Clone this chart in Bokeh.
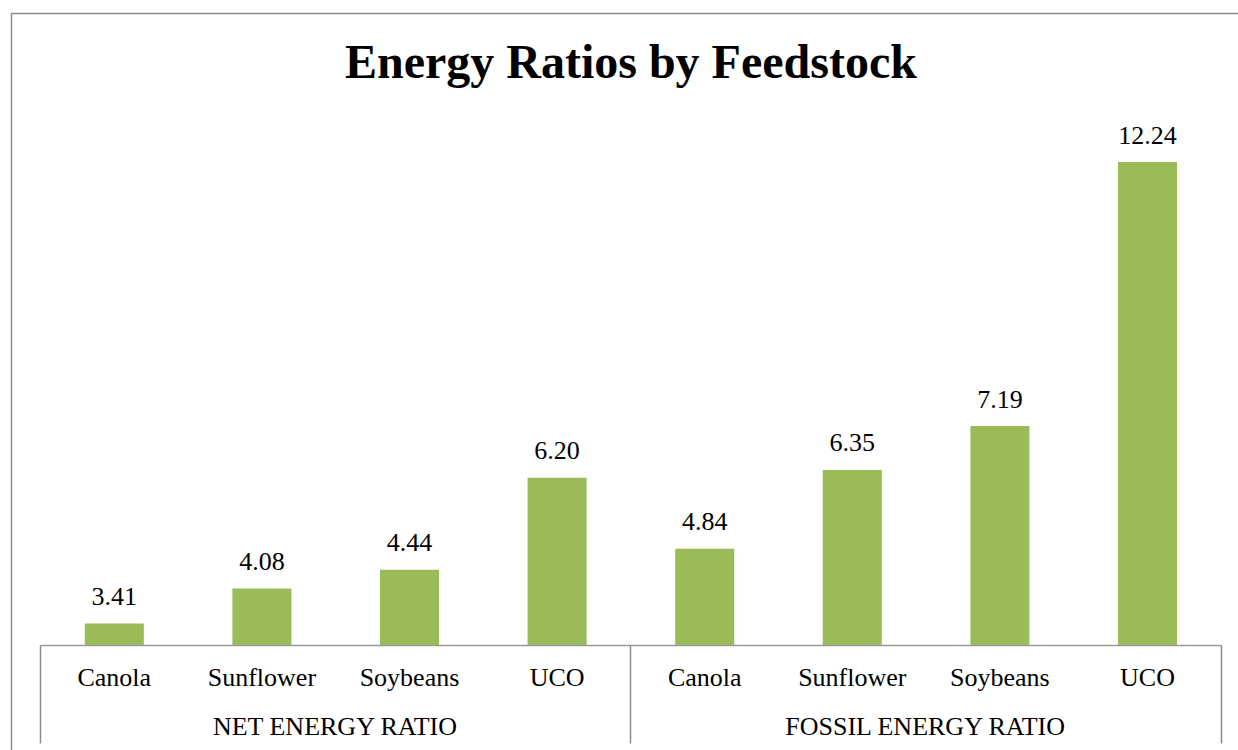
from bokeh.plotting import figure
from bokeh.models import ColumnDataSource, Range1d, LinearAxis, FixedTicker, Label
from bokeh.core.properties import value
from bokeh.embed import file_html
from bokeh.resources import INLINE

# ---- data ----
groups = ["NET ENERGY RATIO", "FOSSIL ENERGY RATIO"]
feedstocks = ["Canola", "Sunflower", "Soybeans", "UCO"]
net_energy = [3.41, 4.08, 4.44, 6.20]
fossil_energy = [4.84, 6.35, 7.19, 12.24]
axis_min = 3
title_text = "Energy Ratios by Feedstock"

values = net_energy + fossil_energy
names = feedstocks * len(groups)
n_per = len(feedstocks)
n_total = len(values)
centers = [i + 0.5 for i in range(n_total)]
group_centers = [g * n_per + n_per / 2 for g in range(len(groups))]
bounds = [g * n_per for g in range(len(groups) + 1)]
labels = [f"{v:.2f}" for v in values]
src = ColumnDataSource(dict(x=centers, top=values, label=labels))

# ---- layout constants (pixels) ----
W, H = 1238, 750
LEFT_PX = 40.0      # start of category axis
SLOT_PX = 147.6     # width of one category slot
BASE_PX = 644.5     # baseline (axis) position
UNIT_PX = 52.26     # pixels per value unit

def px_x(px):
    return (px - LEFT_PX) / SLOT_PX

def px_y(py):
    return axis_min + (BASE_PX - py) / UNIT_PX

FONT = "Liberation Serif"
GREEN = "#9BBB59"
GRAY = "#8c8c8c"

p = figure(
    x_range=Range1d(px_x(0), px_x(W)),
    y_range=Range1d(px_y(H), px_y(0)),
    width=W, height=H,
    output_backend="svg", toolbar_location=None,
    x_axis_location=None, y_axis_location=None,
    min_border=0,
    background_fill_color="white", border_fill_color="white",
    outline_line_color=None,
)
p.grid.grid_line_color = None

# outer chart border (left and top edges visible)
p.line(x=[px_x(11), px_x(11), px_x(W + 10)], y=[px_y(H + 10), px_y(13), px_y(13)],
       line_color=GRAY, line_width=1.5)

# bars
p.vbar(x="x", top="top", bottom=axis_min, width=0.4, source=src,
       fill_color=GREEN, line_color=None)

# data labels
p.text(x="x", y="top", text="label", source=src,
       text_align="center", text_baseline="alphabetic", y_offset=-27,
       text_font=value(FONT), text_font_size="26px", text_color="black")

# title
p.add_layout(Label(x=n_total / 2, y=px_y(61), text=title_text,
                   text_align="center", text_baseline="alphabetic",
                   text_font=FONT, text_font_size="48px", text_font_style="bold",
                   text_color="black"))

# category axis (Canola, Sunflower, ...)
cat_axis = LinearAxis(fixed_location=axis_min, bounds=(bounds[0], bounds[-1]),
                      ticker=FixedTicker(ticks=centers, minor_ticks=[]),
                      major_label_overrides={c: nm for c, nm in zip(centers, names)})
cat_axis.axis_line_color = "#9a9a9a"
cat_axis.axis_line_width = 1.5
cat_axis.major_tick_line_color = None
cat_axis.minor_tick_line_color = None
cat_axis.major_tick_out = 0
cat_axis.major_tick_in = 0
cat_axis.major_label_standoff = 18
cat_axis.major_label_text_font = FONT
cat_axis.major_label_text_font_size = "26px"
cat_axis.major_label_text_color = "black"
p.add_layout(cat_axis, "below")

# group axis (NET ENERGY RATIO, FOSSIL ENERGY RATIO)
grp_axis = LinearAxis(fixed_location=axis_min,
                      ticker=FixedTicker(ticks=group_centers, minor_ticks=[]),
                      major_label_overrides={c: g for c, g in zip(group_centers, groups)})
grp_axis.axis_line_color = None
grp_axis.major_tick_line_color = None
grp_axis.minor_tick_line_color = None
grp_axis.major_tick_out = 0
grp_axis.major_tick_in = 0
grp_axis.major_label_standoff = 67
grp_axis.major_label_text_font = FONT
grp_axis.major_label_text_font_size = "26px"
grp_axis.major_label_text_color = "black"
p.add_layout(grp_axis, "below")

# group separators (long ticks at group boundaries)
sep_axis = LinearAxis(fixed_location=axis_min,
                      ticker=FixedTicker(ticks=bounds, minor_ticks=[]),
                      major_label_overrides={b: "" for b in bounds})
sep_axis.axis_line_color = None
sep_axis.major_tick_in = 0
sep_axis.major_tick_out = 98
sep_axis.major_tick_line_color = GRAY
sep_axis.major_tick_line_width = 1.5
sep_axis.minor_tick_line_color = None
sep_axis.major_label_text_color = None
p.add_layout(sep_axis, "below")

open("out.html", "w").write(file_html(p, INLINE))
